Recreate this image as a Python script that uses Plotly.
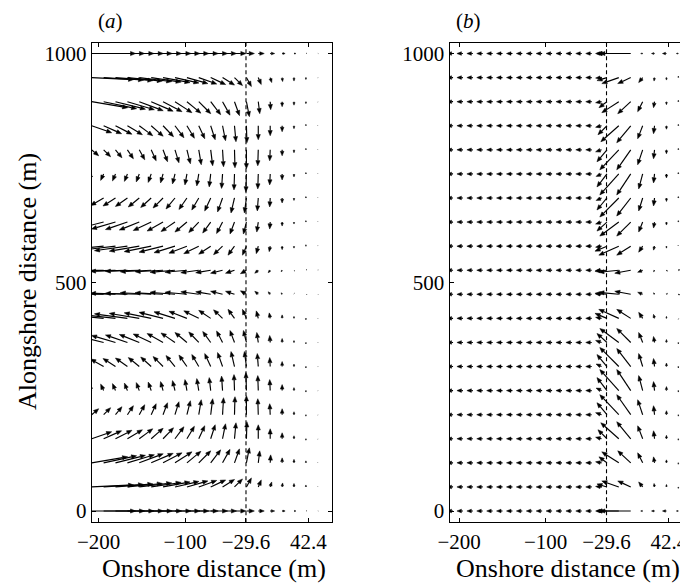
import plotly.graph_objects as go

PAGE_W, PAGE_H = 688, 586
OFF = 8                      # default body margin of the html page
W, H = PAGE_W - OFF, PAGE_H - OFF

# ---------------- data ----------------
Y_ROWS = [0, 52.6, 105.3, 157.9, 210.5, 263.2, 315.8, 368.4, 421.1, 473.7,
          526.3, 578.9, 631.6, 684.2, 736.8, 789.5, 842.1, 894.7, 947.4, 1000]

XA = [-208.0, -194.2, -180.5, -166.7, -153.0, -139.2, -125.5, -111.7, -97.9, -84.2,
      -70.4, -56.7, -42.9, -29.1, -15.4, -1.6, 12.2, 25.9, 39.7, 53.4]

XB = [-207.0, -195.6, -184.1, -172.7, -161.2, -149.8, -138.3, -126.9, -115.4, -104.0,
      -92.5, -81.1, -69.6, -58.2, -46.7, -35.3,
      -29.1, -15.4, -1.6, 12.2, 25.9, 39.7, 53.4]

SHORE_X = -29.6
X_TICKS = [-200, -100, -29.6, 42.4]
X_TICK_TEXT = ["\u2212200", "\u2212100", "\u221229.6", "42.4"]
Y_TICKS = [0, 500, 1000]
Y_TICK_TEXT = ["0", "500", "1000"]

# panel (a): velocity components (onshore u, alongshore v), rows from y=0 upward
UA = [
    [44, 41, 38.5, 36, 33, 30.5, 28, 25, 22, 19.5, 17, 14, 11.5, 8, 6, 4.5, 3, 2, 1, 0.5],
    [42, 40, 37.5, 35, 32.5, 30, 27, 24, 21, 18, 15, 12, 8, 5, 3, 1.5, 0.5, 0, 0, 0],
    [36, 33, 30, 27, 24, 22, 19, 17, 14, 12, 10, 7.5, 5, 3, 1.5, 0.5, 0, 0, 0, 0],
    [20, 18, 16.5, 15, 13.5, 12, 10.5, 9, 7.5, 6, 4.5, 3, 1.5, 0.5, 0, 0, 0, 0, 0, 0],
    [7, 7, 6.5, 6, 5.5, 5, 4.5, 4, 3.5, 2.5, 2, 1, 0.5, 0, -0.5, -0.5, 0, 0, 0, 0],
    [-3, -3, -3, -3, -3, -3, -2.5, -2.5, -2, -2, -1.5, -1, -0.5, -0.5, -0.5, -0.5, 0, 0, 0, 0],
    [-14, -13, -12.5, -12, -11, -10.5, -10, -9, -8, -7, -6, -5, -3.5, -2, -1, -0.5, 0, 0, 0, 0],
    [-28, -26, -24, -22, -20, -18, -16, -14, -12, -10, -8, -6, -4.5, -3, -1.5, -0.5, 0, 0, 0, 0],
    [-40, -38, -35, -33, -30, -27, -24, -21, -18, -15, -12, -9, -6.5, -4, -2, -1, 0, 0, 0, 0],
    [-44, -42, -40, -37, -34, -31, -28, -25, -22, -18, -15, -12, -9, -6, -3.5, -2, -1, 0.5, 1, 0.5],
    [-44, -42, -40, -37, -34, -31, -28, -25, -22, -18, -15, -12, -9, -6, -3.5, -2, -1, 0.5, 1, 0.5],
    [-40, -38, -35, -33, -30, -27, -24, -21, -18, -15, -12, -9, -6.5, -4, -2, -1, 0, 0, 0, 0],
    [-28, -26, -24, -22, -20, -18, -16, -14, -12, -10, -8, -6, -4.5, -3, -1.5, -0.5, 0, 0, 0, 0],
    [-14, -13, -12.5, -12, -11, -10.5, -10, -9, -8, -7, -6, -5, -3.5, -2, -1, -0.5, 0, 0, 0, 0],
    [-3, -3, -3, -3, -3, -3, -2.5, -2.5, -2, -2, -1.5, -1, -0.5, -0.5, -0.5, -0.5, 0, 0, 0, 0],
    [7, 7, 6.5, 6, 5.5, 5, 4.5, 4, 3.5, 2.5, 2, 1, 0.5, 0, -0.5, -0.5, 0, 0, 0, 0],
    [20, 18, 16.5, 15, 13.5, 12, 10.5, 9, 7.5, 6, 4.5, 3, 1.5, 0.5, 0, 0, 0, 0, 0, 0],
    [36, 33, 30, 27, 24, 22, 19, 17, 14, 12, 10, 7.5, 5, 3, 1.5, 0.5, 0, 0, 0, 0],
    [42, 40, 37.5, 35, 32.5, 30, 27, 24, 21, 18, 15, 12, 8, 5, 3, 1.5, 0.5, 0, 0, 0],
    [44, 41, 38.5, 36, 33, 30.5, 28, 25, 22, 19.5, 17, 14, 11.5, 8, 6, 4.5, 3, 2, 1, 0.5],
]
VA = [
    [0, 0, 0, 0, 0, 0, 0, 0, 0, 0, 0, 0, 0, 0, 0, 0, 0, 0, 0, 0],
    [2, 2.5, 3, 3.5, 4, 4.5, 5, 5.5, 6, 6.5, 7, 7.5, 8, 9, 7, 5, 4, 3.5, 2, 0.5],
    [6, 7, 7.5, 8, 9, 9.5, 10, 11, 11.5, 12, 13, 13.5, 14, 15, 12, 8, 5, 3.5, 2, 0.5],
    [7, 8, 8.5, 9, 10, 10.5, 11, 12, 12.5, 13, 14, 15, 16, 17, 14, 10, 6, 3, -1.5, -0.5],
    [6, 7, 8, 9, 10, 11, 12, 13, 14, 15, 16, 17, 18, 19, 16, 11, 6, 3, -1.5, -0.5],
    [6, 6.5, 7, 7.5, 8, 8.5, 9, 10, 11, 12, 13, 14.5, 16, 18, 15, 11, 6, 3, -1.5, -0.5],
    [7, 7.5, 8, 8.5, 9, 9.5, 10, 11, 11.5, 12, 13, 14, 15, 15, 13, 9, 5, 2.5, -1.5, -0.5],
    [6, 6.5, 7, 7.5, 8, 8.5, 9, 9.5, 10, 10.5, 11, 11.5, 12, 12, 10, 7, 4, 2, -1.5, -0.5],
    [3, 3.5, 4, 4.5, 5, 5.5, 6, 6.5, 7, 7.5, 8, 8.5, 9, 9, 7.5, 5.5, 3.5, 2, -1.5, -0.5],
    [0.5, 0.5, 1, 1, 1, 1.5, 1.5, 2, 2, 2.5, 2.5, 3, 3, 3.5, 3, 2.5, 1.5, 1, -0.5, -0.3],
    [-0.5, -0.5, -1, -1, -1, -1.5, -1.5, -2, -2, -2.5, -2.5, -3, -3, -3.5, -3, -2.5, -1.5, -1, 0.5, 0.3],
    [-3, -3.5, -4, -4.5, -5, -5.5, -6, -6.5, -7, -7.5, -8, -8.5, -9, -9, -7.5, -5.5, -3.5, -2, 1.5, 0.5],
    [-6, -6.5, -7, -7.5, -8, -8.5, -9, -9.5, -10, -10.5, -11, -11.5, -12, -12, -10, -7, -4, -2, 1.5, 0.5],
    [-7, -7.5, -8, -8.5, -9, -9.5, -10, -11, -11.5, -12, -13, -14, -15, -15, -13, -9, -5, -2.5, 1.5, 0.5],
    [-6, -6.5, -7, -7.5, -8, -8.5, -9, -10, -11, -12, -13, -14.5, -16, -18, -15, -11, -6, -3, 1.5, 0.5],
    [-6, -7, -8, -9, -10, -11, -12, -13, -14, -15, -16, -17, -18, -19, -16, -11, -6, -3, 1.5, 0.5],
    [-7, -8, -8.5, -9, -10, -10.5, -11, -12, -12.5, -13, -14, -15, -16, -17, -14, -10, -6, -3, 1.5, 0.5],
    [-6, -7, -7.5, -8, -9, -9.5, -10, -11, -11.5, -12, -13, -13.5, -14, -15, -12, -8, -5, -3.5, -2, -0.5],
    [-2, -2.5, -3, -3.5, -4, -4.5, -5, -5.5, -6, -6.5, -7, -7.5, -8, -9, -7, -5, -4, -3.5, -2, -0.5],
    [0, 0, 0, 0, 0, 0, 0, 0, 0, 0, 0, 0, 0, 0, 0, 0, 0, 0, 0, 0],
]

# panel (b): 16 offshore columns + 7 surf-zone columns
UB = [
    [-6, -6, -6, -6, -6, -6, -6, -6, -6, -6, -6, -6, -6, -6, -6, -6, -10, -22, -31, -2, -3, -4, -2],
    [-6, -6, -6, -6, -6, -6, -6, -6, -6, -6, -6, -6, -6, -6, -6, -6, -10, -17, -13, -4, -0.5, 0, 0],
    [-6, -6, -6, -6, -6, -6, -6, -6, -6, -6, -6, -6, -6, -6, -6, -6, -8, -17, -13, -5, -1, 0, 0],
    [-6, -6, -6, -6, -6, -6, -6, -6, -6, -6, -6, -6, -6, -6, -6, -6, -9, -18, -14, -5, -1, 0, 0],
    [-6, -6, -6, -6, -6, -6, -6, -6, -6, -6, -6, -6, -6, -6, -6, -6, -10, -19, -14, -5, -1, 0, 0],
    [-6, -6, -6, -6, -6, -6, -6, -6, -6, -6, -6, -6, -6, -6, -6, -5.5, -10, -19, -14, -4, -1, 0, 0],
    [-6, -6, -6, -6, -6, -6, -6, -6, -6, -6, -6, -6, -6, -6, -6, -5.5, -10, -19, -14, -4, -1, 0, 0],
    [-6, -6, -6, -6, -6, -6, -6, -6, -6, -6, -6, -6, -6, -6, -6, -6, -10, -19, -14, -4, -1, 0, 0],
    [-6, -6, -6, -6, -6, -6, -6, -6, -6, -6, -6, -6, -6, -6, -6, -6, -12, -20, -14, -4, -1, 0, 0],
    [-6, -6, -6, -6, -6, -6, -6, -6, -6, -6, -6, -6, -6, -6, -6, -6, -12, -20, -16, -5, -1, 1, 1.5],
    [-6, -6, -6, -6, -6, -6, -6, -6, -6, -6, -6, -6, -6, -6, -6, -6, -12, -20, -16, -5, -1, 1, 1.5],
    [-6, -6, -6, -6, -6, -6, -6, -6, -6, -6, -6, -6, -6, -6, -6, -6, -12, -20, -14, -4, -1, 0, 0],
    [-6, -6, -6, -6, -6, -6, -6, -6, -6, -6, -6, -6, -6, -6, -6, -6, -10, -19, -14, -4, -1, 0, 0],
    [-6, -6, -6, -6, -6, -6, -6, -6, -6, -6, -6, -6, -6, -6, -6, -5.5, -10, -19, -14, -4, -1, 0, 0],
    [-6, -6, -6, -6, -6, -6, -6, -6, -6, -6, -6, -6, -6, -6, -6, -5.5, -10, -19, -14, -4, -1, 0, 0],
    [-6, -6, -6, -6, -6, -6, -6, -6, -6, -6, -6, -6, -6, -6, -6, -6, -10, -19, -14, -5, -1, 0, 0],
    [-6, -6, -6, -6, -6, -6, -6, -6, -6, -6, -6, -6, -6, -6, -6, -6, -9, -18, -14, -5, -1, 0, 0],
    [-6, -6, -6, -6, -6, -6, -6, -6, -6, -6, -6, -6, -6, -6, -6, -6, -8, -17, -13, -5, -1, 0, 0],
    [-6, -6, -6, -6, -6, -6, -6, -6, -6, -6, -6, -6, -6, -6, -6, -6, -10, -17, -13, -4, -0.5, 0, 0],
    [-6, -6, -6, -6, -6, -6, -6, -6, -6, -6, -6, -6, -6, -6, -6, -6, -10, -22, -31, -2, -3, -4, -2],
]
VB = [
    [0, 0, 0, 0, 0, 0, 0, 0, 0, 0, 0, 0, 0, 0, 0, 0, 0, 0, 0, 0, 0, 0, 0],
    [0, 0, 0, 0, 0, 0, 0, 0, 0, 0, 0, 0, 0, 0, 0, 0.5, 3, 6, 6, 5, 3.5, 2.5, -1.5],
    [0, 0, 0, 0, 0, 0, 0, 0, 0, 0, 0, 0, 0, 0, 0, 1, 6, 11, 12, 10, 6, 3, -1.5],
    [0, 0, 0, 0, 0, 0, 0, 0, 0, 0, 0, 0, 0, 0, 0, 1.5, 9, 16, 17, 13, 8, 3.5, -1.5],
    [0, 0, 0, 0, 0, 0, 0, 0, 0, 0, 0, 0, 0, 0, 0, 2, 12, 20, 20, 15, 9, 4, -1.5],
    [0, 0, 0, 0, 0, 0, 0, 0, 0, 0, 0, 0, 0, 0, 0, 2.5, 13, 21, 21, 15, 9, 4, -1.5],
    [0, 0, 0, 0, 0, 0, 0, 0, 0, 0, 0, 0, 0, 0, 0, 2.5, 12, 19, 18, 13, 8, 3.5, -1.5],
    [0, 0, 0, 0, 0, 0, 0, 0, 0, 0, 0, 0, 0, 0, 0, 2, 9, 14, 14, 10, 6, 3, -1.5],
    [0, 0, 0, 0, 0, 0, 0, 0, 0, 0, 0, 0, 0, 0, 0, 1, 5, 9, 9, 6, 4, 2, -1],
    [0, 0, 0, 0, 0, 0, 0, 0, 0, 0, 0, 0, 0, 0, 0, 0.3, 1, 2, 3, 2, 1.5, 1, -0.5],
    [0, 0, 0, 0, 0, 0, 0, 0, 0, 0, 0, 0, 0, 0, 0, -0.3, -1, -2, -3, -2, -1.5, -1, 0.5],
    [0, 0, 0, 0, 0, 0, 0, 0, 0, 0, 0, 0, 0, 0, 0, -1, -5, -9, -9, -6, -4, -2, 1],
    [0, 0, 0, 0, 0, 0, 0, 0, 0, 0, 0, 0, 0, 0, 0, -2, -9, -14, -14, -10, -6, -3, 1.5],
    [0, 0, 0, 0, 0, 0, 0, 0, 0, 0, 0, 0, 0, 0, 0, -2.5, -12, -19, -18, -13, -8, -3.5, 1.5],
    [0, 0, 0, 0, 0, 0, 0, 0, 0, 0, 0, 0, 0, 0, 0, -2.5, -13, -21, -21, -15, -9, -4, 1.5],
    [0, 0, 0, 0, 0, 0, 0, 0, 0, 0, 0, 0, 0, 0, 0, -2, -12, -20, -20, -15, -9, -4, 1.5],
    [0, 0, 0, 0, 0, 0, 0, 0, 0, 0, 0, 0, 0, 0, 0, -1.5, -9, -16, -17, -13, -8, -3.5, 1.5],
    [0, 0, 0, 0, 0, 0, 0, 0, 0, 0, 0, 0, 0, 0, 0, -1, -6, -11, -12, -10, -6, -3, 1.5],
    [0, 0, 0, 0, 0, 0, 0, 0, 0, 0, 0, 0, 0, 0, 0, -0.5, -3, -6, -6, -5, -3.5, -2.5, 1.5],
    [0, 0, 0, 0, 0, 0, 0, 0, 0, 0, 0, 0, 0, 0, 0, 0, 0, 0, 0, 0, 0, 0, 0],
]

# ---------------- layout geometry (page pixels -> paper) ----------------
FONT = "Liberation Serif, Times New Roman, serif"
ARROW_SCALE = 1.0       # drawn pixels per velocity unit
HEAD_LEN = 5.2          # px
HEAD_RATIO = 0.4        # half-width / length


def px(x):
    return (x - OFF) / W


def py(y):
    return 1 - (y - OFF) / H


YDOM = [py(522.3), py(43.0)]
YRANGE = [-24.7, 1023.0]
XDOM_A = [px(91.7), px(332.3)]
XRANGE_A = [-208.0, 70.2]
XDOM_B = [px(449.5), 1.0]
XRANGE_B = [-211.1, 64.6]


def scale(dom, rng, total):
    return (dom[1] - dom[0]) * total / (rng[1] - rng[0])


def quiver(xs, ys, U, V, sx, sy):
    shx, shy, hx, hy = [], [], [], []
    for i, y in enumerate(ys):
        for j, x in enumerate(xs):
            u = U[i][j] * ARROW_SCALE
            v = V[i][j] * ARROW_SCALE
            L = (u * u + v * v) ** 0.5
            if L < 0.2:
                continue
            ex, ey = u / L, v / L
            hl = min(HEAD_LEN, 0.75 * L)
            hw = hl * HEAD_RATIO
            tx, ty = x + u / sx, y + v / sy
            bx, by = tx - hl * ex / sx, ty - hl * ey / sy
            if L - hl > 0.3:
                shx += [x, bx, None]
                shy += [y, by, None]
            hx += [tx, bx - hw * ey / sx, bx + hw * ey / sx, tx, None]
            hy += [ty, by + hw * ex / sy, by - hw * ex / sy, ty, None]
    return shx, shy, hx, hy


fig = go.Figure()
sy = scale(YDOM, YRANGE, H)
for xs, U, V, xd, xr, xa, ya in [
    (XA, UA, VA, XDOM_A, XRANGE_A, "x", "y"),
    (XB, UB, VB, XDOM_B, XRANGE_B, "x2", "y2"),
]:
    sx = scale(xd, xr, W)
    shx, shy, hx, hy = quiver(xs, Y_ROWS, U, V, sx, sy)
    fig.add_trace(go.Scatter(x=shx, y=shy, mode="lines", xaxis=xa, yaxis=ya,
                             line=dict(color="black", width=1.15),
                             hoverinfo="skip", showlegend=False))
    fig.add_trace(go.Scatter(x=hx, y=hy, mode="lines", xaxis=xa, yaxis=ya,
                             fill="toself", fillcolor="black",
                             line=dict(color="black", width=0.5),
                             hoverinfo="skip", showlegend=False))

axis_common = dict(showgrid=False, zeroline=False, showline=True, linecolor="black",
                   linewidth=1, ticks="inside", ticklen=4, tickcolor="black",
                   tickwidth=1, automargin=False,
                   tickfont=dict(family=FONT, size=21, color="black"))

fig.update_layout(
    template="none",
    width=W, height=H,
    margin=dict(l=0, r=0, t=0, b=0),
    paper_bgcolor="white", plot_bgcolor="white",
    showlegend=False,
    xaxis=dict(domain=XDOM_A, range=XRANGE_A, anchor="y", mirror="ticks",
               tickvals=X_TICKS, ticktext=X_TICK_TEXT, **axis_common),
    yaxis=dict(domain=YDOM, range=YRANGE, anchor="x", mirror="ticks",
               tickvals=Y_TICKS, ticktext=Y_TICK_TEXT, **axis_common),
    xaxis2=dict(domain=XDOM_B, range=XRANGE_B, anchor="y2", mirror="ticks",
                tickvals=X_TICKS, ticktext=X_TICK_TEXT, **axis_common),
    yaxis2=dict(domain=YDOM, range=YRANGE, anchor="x2", mirror=False,
                tickvals=Y_TICKS, ticktext=Y_TICK_TEXT, **axis_common),
)

for xr in ["x", "x2"]:
    yr = "y domain" if xr == "x" else "y2 domain"
    fig.add_shape(type="line", xref=xr, yref=yr, x0=SHORE_X, x1=SHORE_X, y0=0, y1=1,
                  line=dict(color="black", width=1.1, dash="4px,3px"))

title_font = dict(family=FONT, size=26, color="black")
fig.add_annotation(text="Onshore distance (m)", xref="paper", yref="paper",
                   x=px(214), y=py(568),
                   showarrow=False, font=title_font, xanchor="center", yanchor="middle")
fig.add_annotation(text="Onshore distance (m)", xref="paper", yref="paper",
                   x=px(568), y=py(568),
                   showarrow=False, font=title_font, xanchor="center", yanchor="middle")
fig.add_annotation(text="Alongshore distance (m)", xref="paper", yref="paper",
                   x=px(28), y=py(282), textangle=-90,
                   showarrow=False, font=title_font, xanchor="center", yanchor="middle")
lab_font = dict(family=FONT, size=21, color="black")
fig.add_annotation(text="(<i>a</i>)", xref="paper", yref="paper",
                   x=px(110), y=1.0, showarrow=False, font=lab_font,
                   xanchor="center", yanchor="top", borderpad=0)
fig.add_annotation(text="(<i>b</i>)", xref="paper", yref="paper",
                   x=px(468), y=1.0, showarrow=False, font=lab_font,
                   xanchor="center", yanchor="top", borderpad=0)

fig.write_html("out.html")
